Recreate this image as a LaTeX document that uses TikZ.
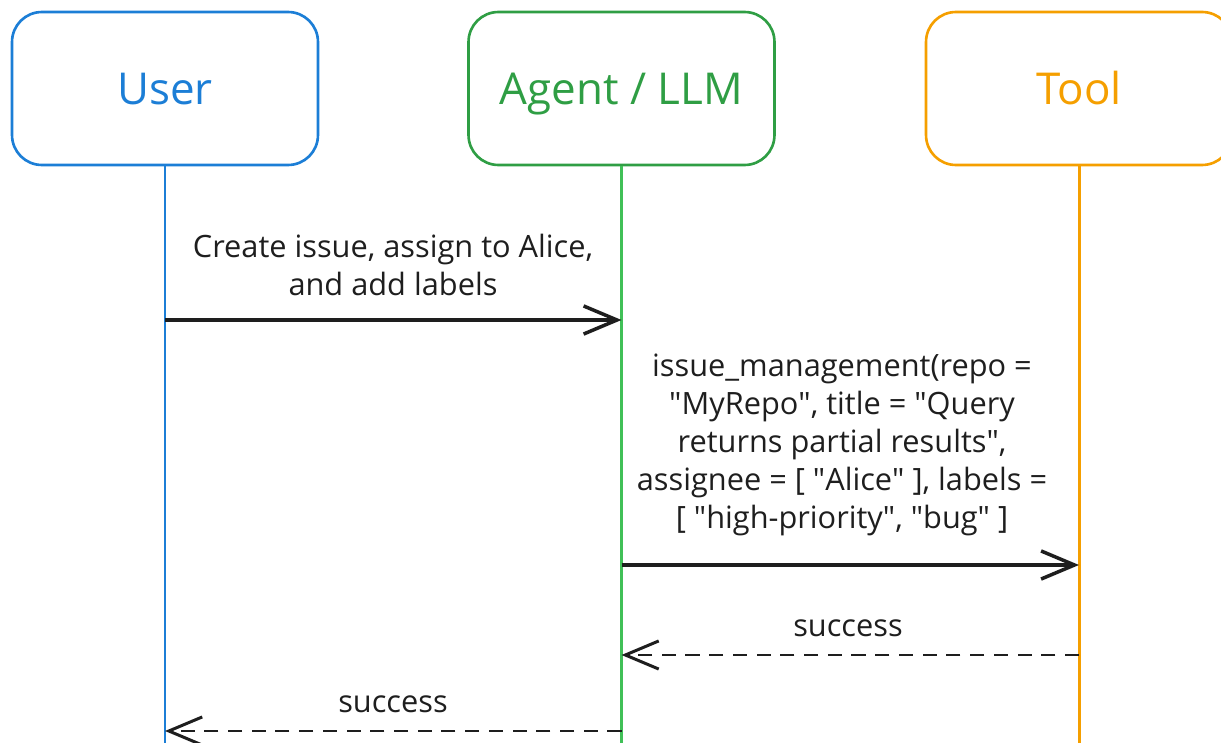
\documentclass[tikz,border=0pt]{standalone}
\usepackage{fontspec}
\setmainfont{Open Sans}
\usetikzlibrary{arrows.meta}

\definecolor{userblue}{HTML}{1C7ED6}
\definecolor{agentgreen}{HTML}{2F9E44}
\definecolor{agentline}{HTML}{40C057}
\definecolor{toolorange}{HTML}{F59F00}
\definecolor{ink}{HTML}{1E1E1E}

\newcommand{\qt}{\textquotedbl}

\tikzset{
    actor/.style={draw, line width=1.5pt, rounded corners=17pt,
        minimum width=6.12cm, minimum height=3.06cm,
        text height=18pt, text depth=0pt,
        font=\fontsize{25}{30}\selectfont},
    lifeline/.style={line width=1.7pt},
    msg/.style={draw=ink, line width=2pt, -{Straight Barb[length=19pt,width=16pt]}},
    reply/.style={msg, line width=1.7pt, dash pattern=on 8pt off 5.5pt},
    note/.style={align=center, text=ink, font=\fontsize{17.5}{21.7}\selectfont}
}

\begin{document}
\begin{tikzpicture}[x=0.02cm, y=-0.02cm]
    \clip (0,0) rectangle (1221,743);

    \node[actor, draw=userblue, text=userblue] (user) at (165,88.5) {User};
    \node[actor, draw=agentgreen, text=agentgreen] (agent) at (621.5,88.5) {Agent / LLM};
    \node[actor, draw=toolorange, text=toolorange] (tool) at (1079,88.5) {Tool};

    \coordinate (userend) at (165,743);
    \coordinate (agentend) at (621.5,743);
    \coordinate (toolend) at (1079,743);

    \draw[lifeline, userblue] (user) -- (userend);
    \draw[lifeline, agentline] (agent) -- (agentend);
    \draw[lifeline, toolorange] (tool) -- (toolend);

    % request from the user
    \coordinate (u1) at (165,320);
    \coordinate (a1) at (621.5,320);
    \node[note] (ask) at (393,265) {Create issue, assign to Alice,\\and add labels};
    \draw[msg] (u1) -- (a1);

    % tool call
    \coordinate (a2) at (621.5,565);
    \coordinate (t2) at (1079,565);
    \node[note] (call) at (842,445) {issue\_management(repo =\\\qt MyRepo\qt, title = \qt Query\\returns partial results\qt,\\assignee = {[} \qt Alice\qt\ {]}, labels =\\{[} \qt high-priority\qt, \qt bug\qt\ {]}};
    \draw[msg] (a2) -- (t2);

    % replies
    \coordinate (t3) at (1079,655);
    \coordinate (a3) at (621.5,655);
    \node[note] (ok1) at (848,628) {success};
    \draw[reply] (t3) -- (a3);

    \coordinate (a4) at (621.5,731);
    \coordinate (u4) at (165,731);
    \node[note] (ok2) at (393,704) {success};
    \draw[reply] (a4) -- (u4);
\end{tikzpicture}
\end{document}
